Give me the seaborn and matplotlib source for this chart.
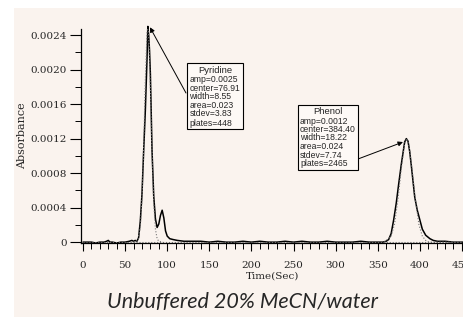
import matplotlib
matplotlib.use("Agg")
import matplotlib.pyplot as plt
from matplotlib.patches import Rectangle
from matplotlib.ticker import MultipleLocator
import pandas as pd
import seaborn as sns

time_trace = [0, 5, 10, 15, 20, 25, 28, 30, 32, 35, 40, 45, 50, 55, 58, 60, 62, 64, 66, 68,
              70, 72, 74, 76, 77, 78, 79, 80, 81, 82, 84, 86, 88, 90, 92, 94, 96, 98, 100, 103,
              107, 112, 120, 130, 140, 150, 160, 170, 180, 190, 200, 210, 220, 230, 240, 250,
              260, 270, 280, 290, 300, 310, 320, 330, 340, 350, 356, 360, 363, 366, 369, 372,
              375, 378, 380, 382, 384, 386, 388, 390, 392, 394, 397, 400, 403, 407, 412, 416,
              421, 430, 440, 452]
abs_trace = [0.00000, 0.00000, 0.00000, -0.00001, 0.00000, 0.00000, 0.00001, 0.00002, 0.00000,
             0.00000, -0.00001, 0.00000, 0.00000, 0.00001, 0.00002, 0.00001, 0.00002, 0.00001,
             0.00005, 0.00024, 0.00055, 0.00105, 0.00152, 0.00212, 0.00250, 0.00240, 0.00222,
             0.00195, 0.00150, 0.00105, 0.00053, 0.00027, 0.00017, 0.00021, 0.00031, 0.00037,
             0.00028, 0.00013, 0.00007, 0.00004, 0.00003, 0.00002, 0.00001, 0.00001, 0.00001,
             0.00000, 0.00001, 0.00000, 0.00000, 0.00001, 0.00000, 0.00001, 0.00000, 0.00000,
             0.00001, 0.00000, 0.00001, 0.00000, 0.00000, 0.00001, 0.00000, 0.00000, 0.00000,
             0.00001, 0.00000, 0.00000, 0.00000, 0.00001, 0.00003, 0.00010, 0.00026, 0.00045,
             0.00068, 0.00090, 0.00103, 0.00116, 0.00120, 0.00117, 0.00105, 0.00088, 0.00070,
             0.00052, 0.00037, 0.00026, 0.00015, 0.00008, 0.00004, 0.00002, 0.00001, 0.00001,
             0.00000, 0.00000]

# fitted peaks (dotted)
time_fit_pyr = [60, 65, 68, 70, 72, 74, 76, 77, 78, 80, 82, 84, 86, 88, 90, 95]
abs_fit_pyr = [0.00000, 0.00002, 0.00017, 0.00049, 0.00110, 0.00188, 0.00243, 0.00250, 0.00240,
               0.00180, 0.00103, 0.00045, 0.00015, 0.00004, 0.00001, 0.00000]
time_fit_phe = [358, 366, 370, 374, 378, 382, 384.4, 387, 391, 395, 399, 403, 407, 411, 452]
abs_fit_phe = [0.00000, 0.00007, 0.00021, 0.00049, 0.00085, 0.00114, 0.00120, 0.00113, 0.00083,
               0.00047, 0.00020, 0.00007, 0.00002, 0.00000, 0.00000]
time_base = [0, 452]
abs_base = [0.00000, 0.00000]

ytick_vals = [0, 0.0004, 0.0008, 0.0012, 0.0016, 0.0020, 0.0024]
ytick_labels = ["0", "0.0004", "0.0008", "0.0012", "0.0016", "0.0020", "0.0024"]
xtick_vals = [0, 50, 100, 150, 200, 250, 300, 350, 400, 450]

pyr_title = "Pyridine"
pyr_lines = ["amp=0.0025", "center=76.91", "width=8.55", "area=0.023", "stdev=3.83", "plates=448"]
phe_title = "Phenol"
phe_lines = ["amp=0.0012", "center=384.40", "width=18.22", "area=0.024", "stdev=7.74", "plates=2465"]

sns.set_style("ticks")
plt.rcParams['font.family'] = ['DejaVu Serif']

W, H = 464, 317
bg = '#FAF3EE'
fig = plt.figure(figsize=(W / 100, H / 100), dpi=100)
fig.patch.set_facecolor('white')
fig.add_artist(Rectangle((14 / W, 0), 1, 309 / H, transform=fig.transFigure,
                         facecolor=bg, edgecolor='none', zorder=0))
ax = fig.add_axes([81 / W, 74 / H, (W - 81) / W, 214 / H])
ax.set_facecolor('none')

trace = pd.DataFrame({'t': time_trace, 'a': abs_trace})
sns.lineplot(data=trace, x='t', y='a', ax=ax, color='black', lw=1.1, estimator=None,
             sort=False, clip_on=False)
for tx, ty in [(time_fit_pyr, abs_fit_pyr), (time_fit_phe, abs_fit_phe), (time_base, abs_base)]:
    sns.lineplot(x=tx, y=ty, ax=ax, color='#777777', lw=0.8, ls=':', estimator=None, sort=False)

ax.set_xlim(-2.4, 452.5)
ax.set_ylim(-0.00001, 0.00247)
ax.set_yticks(ytick_vals, labels=ytick_labels)
ax.set_xticks(xtick_vals)
ax.yaxis.set_minor_locator(MultipleLocator(0.0002))
ax.xaxis.set_minor_locator(MultipleLocator(10))
ax.tick_params(axis='y', which='major', length=8, width=0.8, pad=2, labelsize=7.5, color='black')
ax.tick_params(axis='y', which='minor', length=4, width=0.7, color='black')
ax.tick_params(axis='x', which='major', length=6, width=0.8, pad=7, labelsize=7.5, color='black')
ax.tick_params(axis='x', which='minor', length=4, width=0.7, color='black')
for s in ['left', 'bottom']:
    ax.spines[s].set_color('black')
    ax.spines[s].set_linewidth(0.9)
sns.despine(ax=ax)
ax.set_xlabel("Time(Sec)", fontsize=7.5, labelpad=1)
ax.set_ylabel("Absorbance", fontsize=8, labelpad=3)


def fx(px):
    return px / W


def fy(py):
    return 1 - py / H


def info_box(x0, y0, x1, y1, title, tx, lines, lx, ly):
    fig.add_artist(Rectangle((fx(x0), fy(y1)), fx(x1) - fx(x0), fy(y0) - fy(y1),
                             transform=fig.transFigure, facecolor='#FDF9F6',
                             edgecolor='black', lw=0.8, zorder=3))
    fig.text(fx(tx), fy(ly[0]), title, ha='center', va='center', fontsize=6.8,
             family='Liberation Sans', zorder=4)
    for s, yy in zip(lines, ly[1:]):
        fig.text(fx(lx), fy(yy), s, ha='left', va='center', fontsize=6.2,
                 family='Liberation Sans', zorder=4)


info_box(187, 63, 243, 129, pyr_title, 215, pyr_lines, 189.5,
         [71, 79.5, 88, 96.7, 105.5, 114, 123])
info_box(298, 105, 358, 170, phe_title, 328, phe_lines, 300,
         [112, 121, 129.5, 138, 146.5, 155, 164])

arrow = dict(arrowstyle='-|>', color='black', lw=0.7, mutation_scale=7, shrinkA=0, shrinkB=0)
ax.annotate("", xy=(79.5, 0.00249), xycoords='data', annotation_clip=False,
            xytext=(fx(186), fy(93)), textcoords='figure fraction', arrowprops=arrow)
ax.annotate("", xy=(380, 0.00116), xycoords='data', annotation_clip=False,
            xytext=(fx(358), fy(159)), textcoords='figure fraction', arrowprops=arrow)

fig.text(fx(243), fy(302), "Unbuffered 20% MeCN/water", ha='center', va='center',
         fontsize=15.5, style='italic', family=['Lato', 'DejaVu Sans'])

fig.savefig('out.png', dpi=100, facecolor=fig.get_facecolor())
